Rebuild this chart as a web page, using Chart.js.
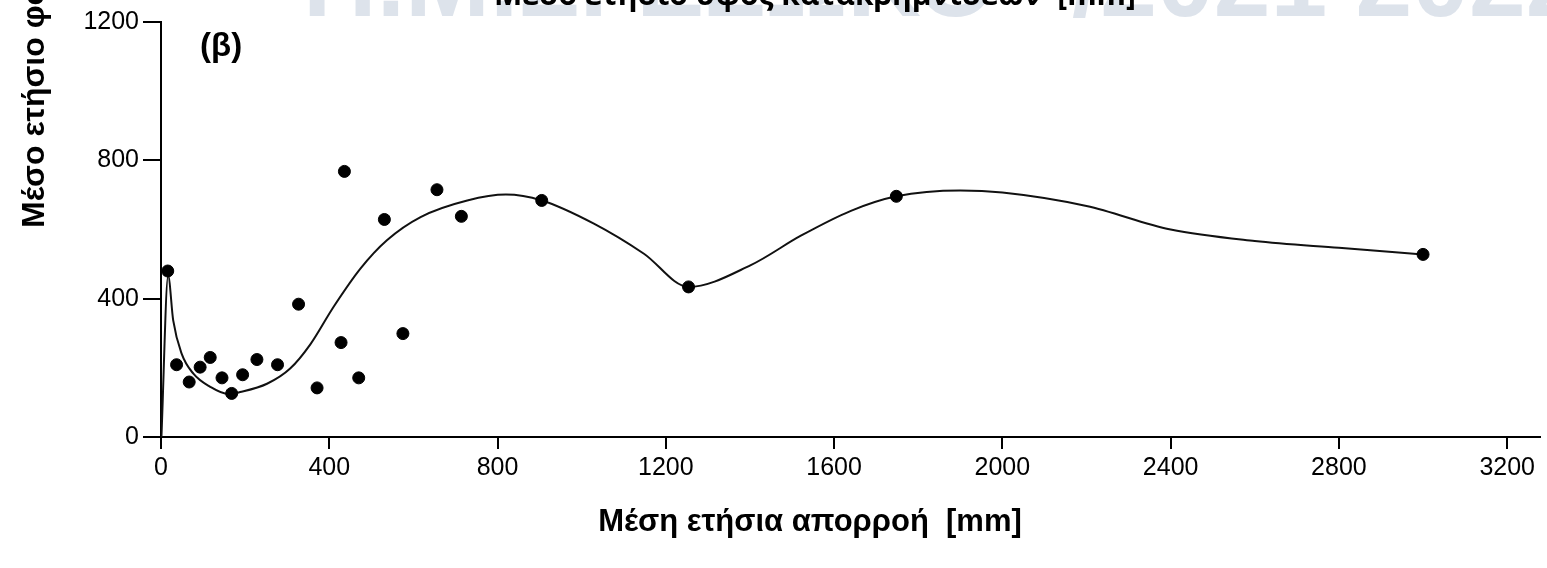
<!DOCTYPE html>
<html>
<head>
<meta charset="utf-8">
<script src="https://cdn.jsdelivr.net/npm/chart.js@4.4.1/dist/chart.umd.min.js"></script>
<style>
  body { margin: 0; background: #fff; }
</style>
</head>
<body>
<canvas id="chart" width="1547" height="568"></canvas>
<script>
// observed points: mean annual runoff [mm] vs. y-value
const runoff   = [16, 37, 67, 93, 117, 145, 168, 194, 228, 277, 327, 371, 428, 436, 470, 531, 575, 656, 714, 905, 1254, 1748, 3000];
const sediment = [480, 209, 159, 202, 230, 171, 126, 180, 224, 209, 384, 142, 273, 768, 171, 629, 299, 715, 638, 684, 434, 696, 528];

// fitted curve
const curveX = [1, 17, 29, 49, 77, 117, 160, 188, 252, 307, 355, 410, 474, 537, 617, 728, 820, 905, 1029, 1148, 1254, 1402, 1521, 1640, 1748, 1900, 2000, 2200, 2400, 2600, 2800, 3000];
const curveY = [0, 466, 337, 241, 183, 145, 124, 130, 154, 198, 268, 376, 487, 569, 636, 684, 701, 684, 617, 530, 434, 497, 582, 654, 696, 713, 707, 668, 600, 567, 547, 528];

const xTicks = [0, 400, 800, 1200, 1600, 2000, 2400, 2800, 3200];
const yTicks = [0, 400, 800, 1200];

const decor = {
  id: 'decor',
  beforeDraw(chart) {
    const ctx = chart.ctx;
    ctx.save();
    ctx.fillStyle = '#dde3eb';
    ctx.font = 'bold 102px "Liberation Sans"';
    ctx.textBaseline = 'alphabetic';
    ctx.fillText('Π.Μ.Σ. ΕΣΩΚΟ', 303, 16);
    ctx.fillText('/2021 2022', 1072, 16);
    ctx.restore();
  },
  afterDraw(chart) {
    const ctx = chart.ctx;
    ctx.save();
    ctx.fillStyle = '#000';
    ctx.textBaseline = 'alphabetic';

    ctx.font = 'bold 30px "Open Sans"';
    ctx.textAlign = 'center';
    ctx.fillText('Μέσο ετήσιο ύψος κατακρημνίσεων  [mm]', 815, 5);

    ctx.font = 'bold 31px "Liberation Sans"';
    ctx.fillText('Μέση ετήσια απορροή  [mm]', 810, 531);

    ctx.textAlign = 'left';
    ctx.font = 'bold 33px "Liberation Sans"';
    ctx.fillText('(β)', 200, 56);

    ctx.font = 'bold 32px "Liberation Sans"';
    ctx.translate(44, 228);
    ctx.rotate(-Math.PI / 2);
    ctx.fillText('Μέσο ετήσιο φορτίο', 0, 0);
    ctx.restore();
  }
};

new Chart(document.getElementById('chart'), {
  data: {
    datasets: [
      {
        type: 'scatter',
        data: runoff.map((x, i) => ({ x: x, y: sediment[i] })),
        backgroundColor: '#000',
        borderColor: '#000',
        pointRadius: 6,
        order: 0
      },
      {
        type: 'line',
        data: curveX.map((x, i) => ({ x: x, y: curveY[i] })),
        borderColor: '#111',
        borderWidth: 2,
        pointRadius: 0,
        fill: false,
        cubicInterpolationMode: 'monotone',
        order: 1
      }
    ]
  },
  options: {
    responsive: false,
    animation: false,
    layout: { padding: { top: 22, left: 0, right: 0, bottom: 0 } },
    plugins: {
      legend: { display: false },
      tooltip: { enabled: false }
    },
    scales: {
      x: {
        type: 'linear',
        min: 0,
        max: 3278,
        afterBuildTicks: s => { s.ticks = xTicks.map(v => ({ value: v })); },
        afterFit: s => { s.height = 131; },
        grid: { drawOnChartArea: false, drawTicks: true, tickLength: 12, color: '#000', lineWidth: 2 },
        border: { display: true, color: '#000', width: 2 },
        ticks: { color: '#000', padding: 4, maxRotation: 0, callback: v => String(v), font: { family: 'Liberation Sans', size: 25 } }
      },
      y: {
        type: 'linear',
        min: 0,
        max: 1200,
        afterBuildTicks: s => { s.ticks = yTicks.map(v => ({ value: v })); },
        afterFit: s => { s.width = 161; },
        grid: { drawOnChartArea: false, drawTicks: true, tickLength: 18, color: '#000', lineWidth: 2 },
        border: { display: true, color: '#000', width: 2 },
        ticks: { color: '#000', padding: 4, callback: v => String(v), font: { family: 'Liberation Sans', size: 25 } }
      }
    }
  },
  plugins: [decor]
});
</script>
</body>
</html>
